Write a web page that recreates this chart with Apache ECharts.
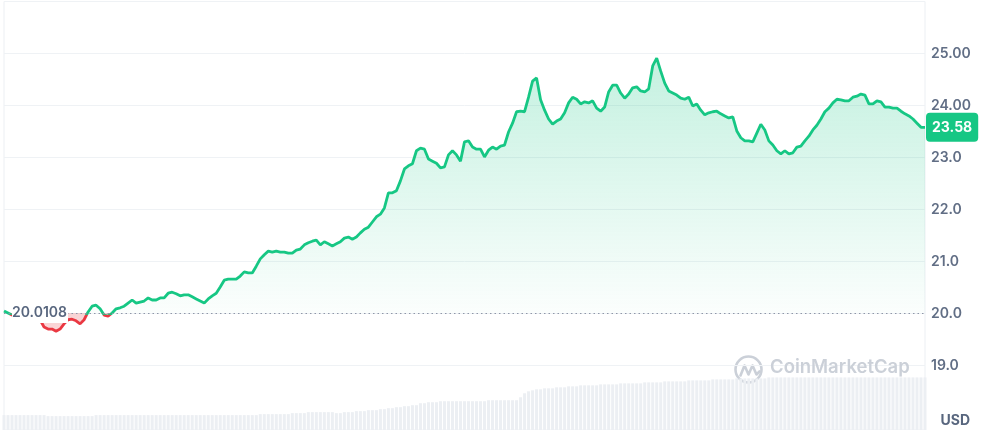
<!DOCTYPE html>
<html>
<head>
<meta charset="utf-8">
<script src="https://cdn.jsdelivr.net/npm/echarts@6/dist/echarts.min.js"></script>
<style>html,body{margin:0;padding:0;background:#fff;}#c{width:982px;height:430px;}</style>
</head>
<body>
<div id="c"></div>
<script>
// ---- data ----
const openPrice = 20.0108;
const lastPrice = 23.58;
const prices = [
20.05,20.01,19.97,19.99,19.95,19.93,19.91,19.93,19.89,19.88,
19.74,19.70,19.70,19.66,19.70,19.80,19.88,19.89,19.86,19.80,
19.88,20.03,20.14,20.16,20.09,19.97,19.95,20.01,20.09,20.11,
20.14,20.20,20.26,20.20,20.22,20.24,20.30,20.26,20.26,20.30,
20.30,20.39,20.41,20.38,20.34,20.36,20.36,20.32,20.28,20.24,
20.20,20.28,20.34,20.39,20.51,20.64,20.66,20.66,20.66,20.72,
20.80,20.78,20.78,20.91,21.05,21.13,21.20,21.18,21.20,21.18,
21.18,21.16,21.16,21.22,21.24,21.32,21.36,21.39,21.41,21.32,
21.38,21.34,21.30,21.34,21.38,21.45,21.47,21.43,21.47,21.55,
21.62,21.66,21.76,21.86,21.91,22.03,22.32,22.32,22.36,22.55,
22.78,22.84,22.88,23.13,23.18,23.16,22.97,22.93,22.89,22.80,
22.82,23.05,23.13,23.05,22.93,23.30,23.32,23.20,23.16,23.16,
23.01,23.14,23.20,23.16,23.22,23.24,23.49,23.66,23.88,23.89,
23.88,24.16,24.47,24.53,24.11,23.91,23.74,23.64,23.70,23.74,
23.86,24.05,24.16,24.12,24.03,24.07,24.05,24.09,23.95,23.89,
23.97,24.26,24.39,24.39,24.24,24.14,24.22,24.34,24.36,24.28,
24.26,24.32,24.76,24.91,24.66,24.43,24.28,24.24,24.20,24.14,
24.12,24.16,23.99,24.03,23.91,23.82,23.86,23.88,23.89,23.84,
23.80,23.76,23.78,23.51,23.38,23.32,23.32,23.30,23.47,23.64,
23.53,23.32,23.24,23.13,23.07,23.13,23.07,23.09,23.20,23.22,
23.32,23.41,23.53,23.62,23.74,23.88,23.95,24.05,24.12,24.11,
24.09,24.09,24.16,24.18,24.22,24.20,24.03,24.03,24.09,24.07,
23.97,23.97,23.95,23.95,23.89,23.84,23.80,23.74,23.66,23.58,
23.58
];
const volumes = [
15,15,15,15,15,15,15,15,15,15,15,
14,14,14,14,14,14,14,14,14,14,14,14,
15,15,15,15,15,15,15,15,15,15,15,15,15,15,15,15,15,15,15,15,15,15,15,15,15,15,15,15,15,15,15,15,15,15,15,15,15,15,15,15,15,
16,16,16,16,16,16,16,16,
17,17,17,17,
18,18,18,18,18,18,18,
17,17,
18,18,18,19,19,19,20,20,20,21,21,
22,22,23,23,24,24,25,25,
27,27,28,28,28,
29,29,29,29,29,29,29,29,29,29,29,29,
30,30,30,30,30,30,30,30,
33,37,39,40,41,
41,42,42,42,43,43,43,44,44,44,45,45,45,
45,45,46,46,46,46,46,47,47,47,47,47,47,
48,48,48,48,48,49,49,49,49,49,49,50,50,
50,50,50,50,51,51,51,51,51,51,52,52,52,52,52,52,52,52,
53,53,53,53,53,53,53,53,53,53,53,53,53,53,53,53,53,53,53,53,
53,53,53,53,53,53,53,53,53,53,53,53,53,53,53,53,53,53,53,53
];
const categories = prices.map((_, i) => String(i));
const yTicks = {min: 19, max: 26, step: 1};

// ---- chart ----
const GREEN = '#16c784', RED = '#ea3943', GRID = '#eff2f5', TXT = '#616e85';
const chart = echarts.init(document.getElementById('c'), null, {renderer: 'canvas'});
const redArea = prices.map(v => Math.min(v, openPrice));
const pMax = Math.max.apply(null, prices), pMin = Math.min.apply(null, prices);
const split = (pMax - openPrice) / (pMax - pMin);
const lineGrad = new echarts.graphic.LinearGradient(0, 0, 0, 1, [
  {offset: 0, color: GREEN}, {offset: split, color: GREEN},
  {offset: split, color: RED}, {offset: 1, color: RED}
]);

chart.setOption({
  animation: false,
  textStyle: {fontFamily: 'Inter, sans-serif'},
  grid: [
    {left: 4, right: 57, top: 1.5, height: 364, show: true, borderColor: '#eceff3', borderWidth: 1},
    {left: 4, right: 57, top: 365.5, height: 65, show: true, borderColor: '#eceff3', borderWidth: 1}
  ],
  xAxis: [
    {type: 'category', data: categories, boundaryGap: false, gridIndex: 0, show: false},
    {type: 'category', data: categories, boundaryGap: false, gridIndex: 1, show: false}
  ],
  yAxis: [
    {type: 'value', gridIndex: 0, position: 'right', min: yTicks.min, max: yTicks.max, interval: yTicks.step,
     axisLine: {show: false}, axisTick: {show: false},
     splitLine: {lineStyle: {color: GRID, width: 1}},
     axisLabel: {showMaxLabel: false, margin: 6, color: TXT, fontSize: 14, fontWeight: 600, fontFamily: 'Inter',
       formatter: v => v >= 24 ? v.toFixed(2) : v.toFixed(1)}},
    {type: 'value', gridIndex: 1, min: 0, max: 65, show: false}
  ],
  series: [
    {
      type: 'line', data: prices, xAxisIndex: 0, yAxisIndex: 0, z: 2,
      showSymbol: false, symbol: 'none',
      lineStyle: {width: 2.8, color: lineGrad},
      areaStyle: {origin: openPrice, color: new echarts.graphic.LinearGradient(0, 0, 0, 1, [
        {offset: 0, color: 'rgba(22,199,132,0.36)'},
        {offset: 1, color: 'rgba(22,199,132,0.0)'}
      ])},
      markLine: {
        silent: true, symbol: 'none', animation: false,
        data: [{yAxis: lastPrice}],
        lineStyle: {color: 'rgba(0,0,0,0)', width: 0},
        label: {show: true, position: 'end', distance: 1, formatter: () => lastPrice.toFixed(2),
          color: '#fff', fontSize: 14, fontWeight: 700, fontFamily: 'Inter',
          backgroundColor: GREEN, borderRadius: 4, padding: [8, 6, 7, 6]}
      }
    },
    {
      type: 'line', data: redArea, xAxisIndex: 0, yAxisIndex: 0, z: 3,
      showSymbol: false, symbol: 'none',
      lineStyle: {opacity: 0, width: 0},
      areaStyle: {origin: openPrice, color: 'rgba(234,57,67,0.3)'},
      markLine: {
        silent: true, symbol: 'none', animation: false,
        data: [{yAxis: openPrice}],
        lineStyle: {type: [1.5, 3], color: '#8e97a8', width: 1},
        label: {position: 'insideStart', distance: [8, 0], formatter: () => String(openPrice),
          color: '#58667e', fontSize: 14, fontWeight: 600, fontFamily: 'Inter',
          backgroundColor: '#fff', padding: [3, 1, 3, 0]}
      }
    },
    {
      type: 'bar', data: volumes, xAxisIndex: 1, yAxisIndex: 1, barWidth: 3,
      itemStyle: {color: '#eceff3'}, silent: true
    }
  ],
  graphic: [
    {type: 'text', right: 12, top: 414, z: 10,
     style: {text: 'USD', fill: '#58667e', font: '700 14px Inter, sans-serif'}},
    {type: 'group', left: 733, top: 354, z: 10, children: [
      {type: 'circle', shape: {cx: 14, cy: 14, r: 13}, style: {fill: 'none', stroke: '#cbd0d8', lineWidth: 2.6}},
      {type: 'polyline', shape: {points: [[6, 20], [10, 10], [14, 19], [18, 10], [22, 19], [25, 16]]},
       style: {fill: 'none', stroke: '#cbd0d8', lineWidth: 2.6, lineJoin: 'round', lineCap: 'round'}}
    ]},
    {type: 'text', left: 770, top: 358, z: 10,
     style: {text: 'CoinMarketCap', fill: '#cbd0d8', font: '600 18.5px Inter, sans-serif'}}
  ]
});
</script>
</body>
</html>
